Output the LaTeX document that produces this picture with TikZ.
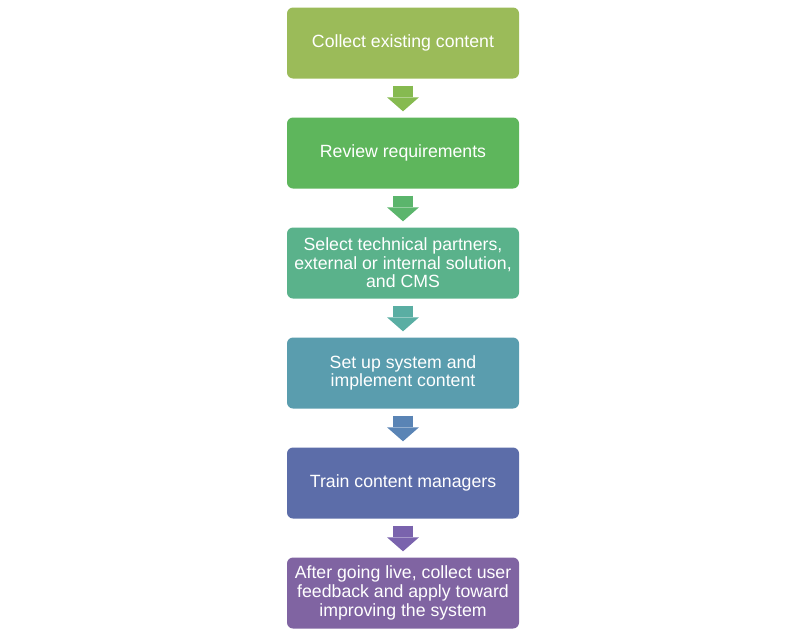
\documentclass[tikz,border=0pt]{standalone}
\usepackage{fontspec}
\setmainfont{Liberation Sans}
\usepackage{tikz}
\usetikzlibrary{arrows.meta}

% box and arrow colours
\definecolor{stepA}{HTML}{9BBB59}
\definecolor{stepB}{HTML}{5EB65C}
\definecolor{stepC}{HTML}{5AB28B}
\definecolor{stepD}{HTML}{5A9DAE}
\definecolor{stepE}{HTML}{5C6DA9}
\definecolor{stepF}{HTML}{8064A2}
\definecolor{arrA}{HTML}{86BA50}
\definecolor{arrB}{HTML}{5BB56C}
\definecolor{arrC}{HTML}{5AAEA3}
\definecolor{arrD}{HTML}{5A84B5}
\definecolor{arrE}{HTML}{7A63AD}

\begin{document}
\begin{tikzpicture}[
    stepbox/.style={fill=#1, text=white, rounded corners=6pt, align=center,
        minimum width=232pt, minimum height=71pt, inner sep=4pt,
        font=\fontsize{17.7}{18.6}\selectfont},
    blockarrow/.style={draw=#1, line width=20pt,
        -{Triangle[length=14pt, width=32pt, line width=0pt]}}
  ]
  \useasboundingbox (0,0) rectangle (800pt,-640pt);

  % --- the six steps ---
  \node[stepbox=stepA] (collect) at (403pt,-43pt) {Collect existing content};
  \node[stepbox=stepB] (review)  at (403pt,-153pt) {Review requirements};
  \node[stepbox=stepC] (select)  at (403pt,-263pt) {Select technical partners,\\external or internal solution,\\and CMS};
  \node[stepbox=stepD] (setup)   at (403pt,-373pt) {Set up system and\\implement content};
  \node[stepbox=stepE] (train)   at (403pt,-483pt) {Train content managers};
  \node[stepbox=stepF] (live)    at (403pt,-593pt) {After going live, collect user\\feedback and apply toward\\improving the system};

  % --- block arrows between the steps ---
  \draw[blockarrow=arrA] ([yshift=-7pt]collect.south) -- ([yshift=6pt]review.north);
  \draw[blockarrow=arrB] ([yshift=-7pt]review.south) -- ([yshift=6pt]select.north);
  \draw[blockarrow=arrC] ([yshift=-7pt]select.south) -- ([yshift=6pt]setup.north);
  \draw[blockarrow=arrD] ([yshift=-7pt]setup.south) -- ([yshift=6pt]train.north);
  \draw[blockarrow=arrE] ([yshift=-7pt]train.south) -- ([yshift=6pt]live.north);
\end{tikzpicture}
\end{document}
